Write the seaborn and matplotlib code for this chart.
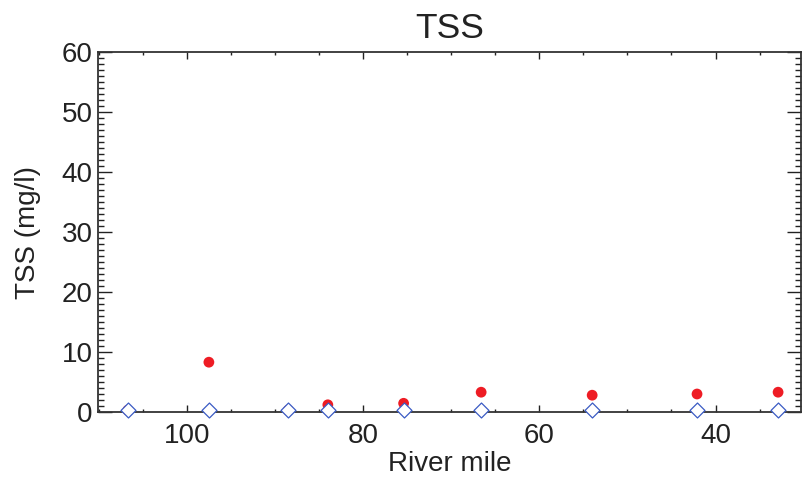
import matplotlib
matplotlib.use("Agg")
import matplotlib.pyplot as plt
from matplotlib.ticker import MultipleLocator
import seaborn as sns
import pandas as pd

# River-mile stations and total suspended solids (mg/l)
river_mile = [106.7, 97.5, 88.5, 84.0, 75.4, 66.6, 54.0, 42.1, 32.9]
tss_measured = [0.3, 8.3, 0.3, 1.2, 1.45, 3.3, 2.8, 3.0, 3.3]
tss_model = [0.3, 0.3, 0.3, 0.3, 0.3, 0.3, 0.3, 0.3, 0.3]

x_ticks = [100, 80, 60, 40]
y_ticks = [0, 10, 20, 30, 40, 50, 60]

sns.set_theme(style="white")
plt.rcParams["font.family"] = ["Liberation Sans", "DejaVu Sans"]
text_color = "#222222"

df = pd.DataFrame({"mile": river_mile, "measured": tss_measured, "model": tss_model})

fig = plt.figure(figsize=(8.02, 4.86), dpi=100)
ax = fig.add_axes([98.3 / 802, 1 - 412 / 486, (801 - 98.3) / 802, (412 - 52) / 486])

sns.scatterplot(data=df, x="mile", y="measured", ax=ax, color="#ee1c24",
                marker="o", s=60, edgecolor="none", zorder=3, clip_on=False)
sns.scatterplot(data=df, x="mile", y="model", ax=ax, color="white",
                marker="D", s=58, edgecolor="#3b5bc4", linewidth=0.9,
                zorder=4, clip_on=False)

ax.set_xlim(110.05, 30.3)
ax.set_ylim(0, 60)
ax.set_xticks(x_ticks)
ax.set_yticks(y_ticks)
ax.xaxis.set_minor_locator(MultipleLocator(5))
ax.yaxis.set_minor_locator(MultipleLocator(1))

ax.tick_params(axis="both", which="both", direction="in", colors=text_color,
               labelsize=20, width=1.0)
ax.tick_params(axis="x", which="major", length=5, top=True, bottom=True, pad=8)
ax.tick_params(axis="x", which="minor", length=2.5, top=True, bottom=True)
ax.tick_params(axis="y", which="major", length=10, left=True, right=True, pad=4)
ax.tick_params(axis="y", which="minor", length=4.5, left=True, right=True)

for sp in ax.spines.values():
    sp.set_visible(True)
    sp.set_color("#333333")
    sp.set_linewidth(1.3)

ax.set_title("TSS", fontsize=25.5, color=text_color, pad=10)
ax.set_xlabel("River mile", fontsize=20, color=text_color, labelpad=1)
ax.set_ylabel("TSS (mg/l)", fontsize=20, color=text_color, labelpad=15)
ax.grid(False)

fig.savefig("out.png", dpi=100)
